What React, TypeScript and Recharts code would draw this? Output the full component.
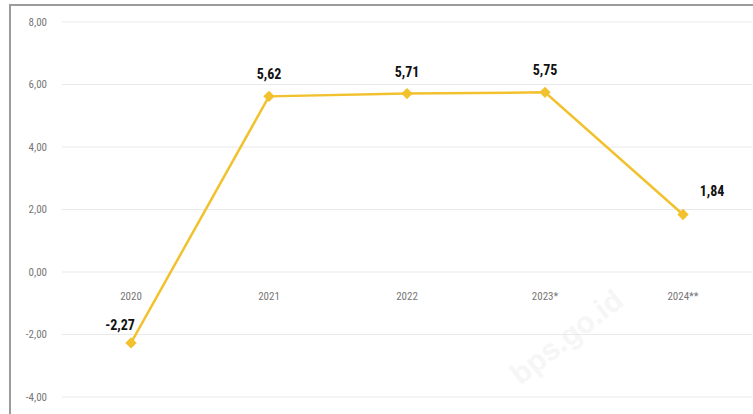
import React from 'react';
import { LineChart, Line, XAxis, YAxis, CartesianGrid, LabelList } from 'recharts';

const years = ['2020', '2021', '2022', '2023*', '2024**'];
const growth = [-2.27, 5.62, 5.71, 5.75, 1.84];
const yTicks = [-4, -2, 0, 2, 4, 6, 8];

const data = years.map((year, i) => ({ year, growth: growth[i] }));

const FONT = '"Liberation Sans Narrow", "Roboto Condensed", "Open Sans", sans-serif';
const GOLD = '#F2C12E';

const fmt = (v: number) => v.toFixed(2).replace('.', ',');

// label nudges per point (first point sits left, last point sits right)
const labelDx = [-11, 0, 0, 0, 29];
const labelDy = [-13, -17, -17, -17, -19];

const YearTick = (props: any) => {
  const { x, y, payload } = props;
  return (
    <text x={x} y={y} dy={-97} textAnchor="middle" fill="#777" fontSize={11} fontFamily={FONT}>
      {payload.value}
    </text>
  );
};

const Diamond = (props: any) => {
  const { cx, cy } = props;
  if (cx == null || cy == null) return null;
  return <rect x={cx - 4} y={cy - 4} width={8} height={8} fill={GOLD} transform={`rotate(45 ${cx} ${cy})`} />;
};

const ValueLabel = (props: any) => {
  const { x, y, value, index } = props;
  return (
    <text
      x={x + labelDx[index]}
      y={y + labelDy[index]}
      textAnchor="middle"
      fill="#111"
      fontSize={14}
      fontWeight="bold"
      fontFamily={FONT}
    >
      {fmt(value)}
    </text>
  );
};

export default function App() {
  return (
    <div style={{ position: 'absolute', left: 0, top: 0, width: 753, height: 414, background: '#fff', overflow: 'hidden' }}>
      <div
        style={{
          position: 'absolute',
          left: 9,
          top: 4,
          width: 744,
          height: 410,
          borderLeft: '2px solid #9c9c9c',
          borderTop: '2px solid #9c9c9c',
        }}
      />
      <div
        style={{
          position: 'absolute',
          left: 500,
          top: 320,
          transform: 'rotate(-38deg)',
          fontFamily: 'sans-serif',
          fontSize: 30,
          fontWeight: 'bold',
          color: '#f6f6f6',
          pointerEvents: 'none',
        }}
      >
        bps.go.id
      </div>
      <div style={{ position: 'absolute', left: 0, top: 0 }}>
        <LineChart width={753} height={414} data={data} margin={{ top: 22, right: 1, bottom: 0, left: 0 }}>
          <CartesianGrid vertical={false} stroke="#e9e9e9" />
          <XAxis
            dataKey="year"
            height={17}
            padding={{ left: 69, right: 69 }}
            axisLine={false}
            tickLine={false}
            tickSize={0}
            tickMargin={0}
            tick={<YearTick />}
            interval={0}
          />
          <YAxis
            width={62}
            domain={[-4, 8]}
            ticks={yTicks}
            axisLine={false}
            tickLine={false}
            tickSize={0}
            tickMargin={15}
            tickFormatter={fmt}
            tick={{ fontSize: 11, fill: '#777', fontFamily: FONT }}
          />
          <Line
            type="linear"
            dataKey="growth"
            stroke={GOLD}
            strokeWidth={2.5}
            dot={<Diamond />}
            activeDot={false}
            isAnimationActive={false}
          >
            <LabelList dataKey="growth" content={<ValueLabel />} />
          </Line>
        </LineChart>
      </div>
    </div>
  );
}
